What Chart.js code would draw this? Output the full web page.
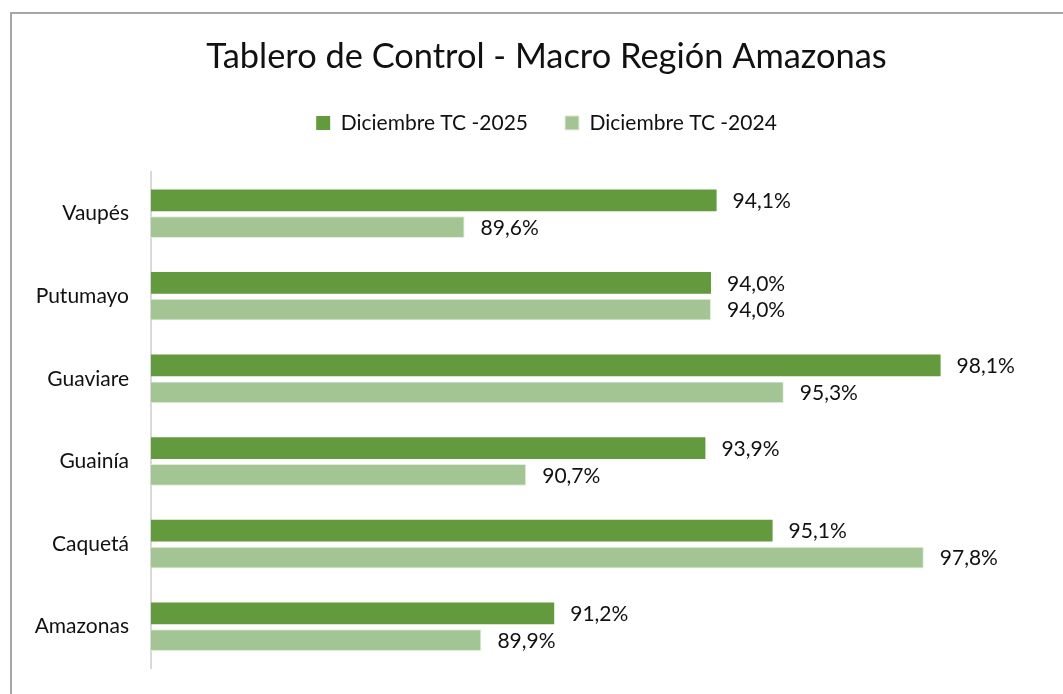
<!DOCTYPE html>
<html>
<head>
<meta charset="utf-8">
<script src="https://cdn.jsdelivr.net/npm/chart.js@4.4.1/dist/chart.umd.min.js"></script>
<style>
  html, body { margin: 0; padding: 0; background: #fff; overflow: hidden; }
  #frame {
    position: absolute; left: 10px; top: 12px; width: 1100px; height: 720px;
    border: 2px solid #a6a6a6; box-sizing: border-box;
  }
  #wrap { position: absolute; left: 0; top: 0; width: 1063px; height: 694px; }
</style>
</head>
<body>
<div id="frame"></div>
<div id="wrap"><canvas id="chart"></canvas></div>
<script>
const categories = ['Vaupés', 'Putumayo', 'Guaviare', 'Guainía', 'Caquetá', 'Amazonas'];
const series2025 = [94.1, 94.0, 98.1, 93.9, 95.1, 91.2];
const series2024 = [89.6, 94.0, 95.3, 90.7, 97.8, 89.9];
const seriesNames = ['Diciembre TC -2025', 'Diciembre TC -2024'];
const axisMin = 84;
const axisMax = 100;

const FONT = 'Lato, "Open Sans", sans-serif';
const INK = '#111';

function fmtPct(v) {
  return v.toFixed(1).replace('.', ',') + '%';
}

// etiquetas de valor a la derecha de cada barra
const barLabels = {
  id: 'barLabels',
  afterDatasetsDraw(chart) {
    const ctx = chart.ctx;
    ctx.save();
    ctx.font = '21px ' + FONT;
    ctx.fillStyle = INK;
    ctx.textAlign = 'left';
    ctx.textBaseline = 'middle';
    chart.data.datasets.forEach((ds, i) => {
      chart.getDatasetMeta(i).data.forEach((bar, j) => {
        ctx.fillText(fmtPct(ds.data[j]), bar.x + 16, bar.y + 1);
      });
    });
    ctx.restore();
  }
};

// aire bajo la leyenda, y titulo/leyenda corridos un poco a la derecha
const SHIFT = 23;
const legendGap = {
  id: 'legendGap',
  beforeInit(chart) {
    const fit = chart.legend.fit;
    chart.legend.fit = function () {
      fit.call(this);
      this.height += 29;
    };
  },
  afterLayout(chart) {
    [chart.legend, chart.titleBlock].forEach(b => {
      b.left += SHIFT;
      b.right += SHIFT;
    });
  }
};

new Chart(document.getElementById('chart').getContext('2d'), {
  type: 'bar',
  data: {
    labels: categories,
    datasets: [
      {
        label: seriesNames[0], data: series2025,
        backgroundColor: '#629a3d', borderColor: '#629a3d', borderWidth: 0,
        categoryPercentage: 0.65, barPercentage: 0.81,
      },
      {
        label: seriesNames[1], data: series2024,
        backgroundColor: '#a3c593', borderColor: '#e4eedd', borderWidth: 1,
        categoryPercentage: 0.65, barPercentage: 0.81,
      },
    ],
  },
  options: {
    indexAxis: 'y',
    responsive: true, maintainAspectRatio: false, animation: false,
    layout: { padding: { left: 0, right: 16, top: 40, bottom: 26 } },
    plugins: {
      title: {
        display: true, text: 'Tablero de Control - Macro Región Amazonas',
        color: INK, font: { family: FONT, size: 34.4, weight: 'normal', lineHeight: 1.0 },
        padding: { top: 0, bottom: 1 },
      },
      legend: {
        position: 'top',
        labels: {
          color: INK, font: { family: FONT, size: 21 },
          boxWidth: 14, boxHeight: 14, padding: 37,
        },
      },
      tooltip: { enabled: false },
    },
    scales: {
      x: { display: false, min: axisMin, max: axisMax },
      y: {
        grid: { display: false, drawTicks: false },
        border: { display: true, color: '#d9d9d9', width: 2 },
        ticks: { color: INK, font: { family: FONT, size: 21 }, padding: 22 },
        afterFit(scale) {
          scale.width = 151;
          scale.paddingTop = 0;
          scale.paddingBottom = 0;
        },
      },
    },
  },
  plugins: [barLabels, legendGap],
});
</script>
</body>
</html>
